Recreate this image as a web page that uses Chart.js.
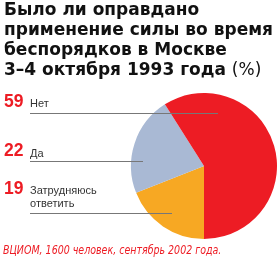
<!DOCTYPE html>
<html>
<head>
<meta charset="utf-8">
<script src="https://cdn.jsdelivr.net/npm/chart.js@4"></script>
<style>
  html, body { margin: 0; padding: 0; background: #fff; }
  #wrap { position: relative; width: 280px; height: 262px; overflow: hidden; }
  #chartBox { position: absolute; left: 0; top: 0; width: 280px; height: 262px; }
  .title { position: absolute; left: 4px; top: -1px; font-family: "DejaVu Sans", sans-serif; font-weight: bold;
           font-size: 17px; line-height: 20px; color: #111; white-space: nowrap; }
  .title .pct { font-weight: normal; }
  .num { position: absolute; left: 4px; font-family: "Liberation Sans", Arial, sans-serif; font-weight: bold;
         font-size: 17.5px; color: #ED1C24; line-height: 17px; }
  .lbl { position: absolute; left: 30px; font-family: "Liberation Sans", Arial, sans-serif;
         font-size: 11.5px; color: #333; line-height: 13px; white-space: nowrap; transform-origin: 0 0; }
  .rule { position: absolute; left: 30px; height: 0; border-top: 1px solid #777; z-index: 2; }
  .note { position: absolute; left: 3px; top: 244px; font-family: "DejaVu Sans Condensed", sans-serif;
          font-style: italic; font-size: 11.5px; line-height: 13px; color: #ED1C24; white-space: nowrap;
          transform-origin: 0 0; }
</style>
</head>
<body>
<div id="wrap">
  <div id="chartBox"><canvas id="pieChart"></canvas></div>
  <div class="title">Было ли оправдано<br>применение силы во время<br>беспорядков в Москве<br>3–4 октября 1993 года <span class="pct">(%)</span></div>
  <div id="labels"></div>
  <div class="note" id="note">ВЦИОМ, 1600 человек, сентябрь 2002 года.</div>
</div>
<script>
// answers, clockwise from the bottom of the pie
const answers = ['Затрудняюсь ответить', 'Да', 'Нет'];
const shares = [19, 22, 59];
const sliceColors = ['#F7A823', '#A9B9D4', '#ED1C24'];

// left-hand legend rows (top to bottom)
const legendNums = ['59', '22', '19'];
const legendText = ['Нет', 'Да', '<span id="longWord">Затрудняюсь</span><br>ответить'];

document.addEventListener('DOMContentLoaded', function() {
    const ctx = document.getElementById('pieChart').getContext('2d');
    new Chart(ctx, {
        type: 'pie',
        data: {
            labels: answers,
            datasets: [{
                data: shares,
                backgroundColor: sliceColors,
                borderWidth: 0
            }]
        },
        options: {
            responsive: true,
            maintainAspectRatio: false,
            animation: false,
            rotation: 180,
            layout: { padding: { left: 131, top: 93, right: 3, bottom: 23 } },
            plugins: {
                legend: { display: false },
                tooltip: { enabled: false }
            }
        }
    });

    // legend rows on the left with leader lines
    const holder = document.getElementById('labels');
    const numTop = [93, 142, 180];
    const lblTop = [97, 147, 184];
    const ruleY = [113, 161, 213];
    const ruleEnd = [218, 143, 172];
    legendNums.forEach(function(n, i) {
        holder.insertAdjacentHTML('beforeend',
            '<div class="num" style="top:' + numTop[i] + 'px">' + n + '</div>' +
            '<div class="lbl" style="top:' + lblTop[i] + 'px">' + legendText[i] + '</div>' +
            '<div class="rule" style="top:' + ruleY[i] + 'px;width:' + (ruleEnd[i] - 30) + 'px"></div>');
    });

    // condensed look: squeeze labels so the long word is as wide as in print
    const squeeze = 67 / document.getElementById('longWord').offsetWidth;
    document.querySelectorAll('.lbl').forEach(function(el) {
        el.style.transform = 'scaleX(' + squeeze + ')';
    });

    const note = document.getElementById('note');
    note.style.transform = 'scaleX(' + (218 / note.offsetWidth) + ')';
});
</script>
</body>
</html>
